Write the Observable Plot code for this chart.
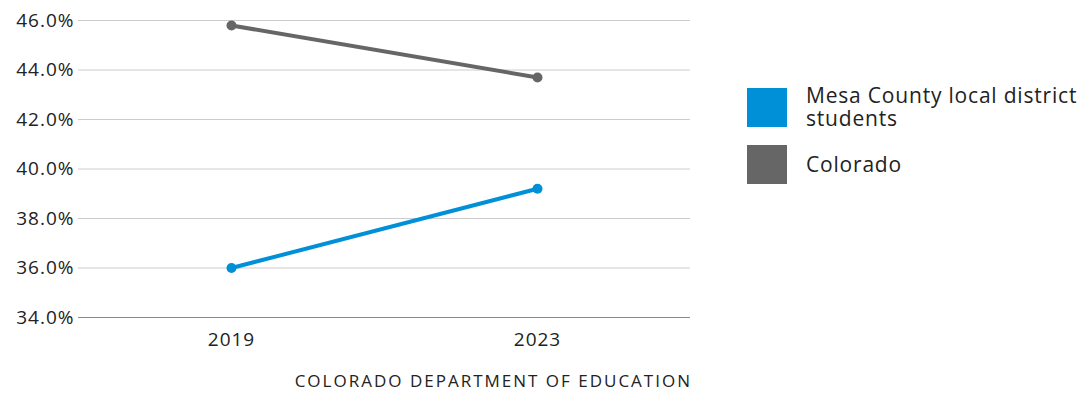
<!DOCTYPE html>
<html>
<head>
<meta charset="utf-8">
<script src="https://cdn.jsdelivr.net/npm/d3@7"></script>
<script src="https://cdn.jsdelivr.net/npm/@observablehq/plot@0.6"></script>
<style>
  html, body { margin: 0; padding: 0; background: #fff; }
  body { font-family: "Open Sans", sans-serif; color: #222; }
  #wrap { position: relative; width: 1083px; height: 393px; }
  #legend { position: absolute; left: 747px; top: 87px; font-size: 21px; line-height: 23px; letter-spacing: 0.8px; }
  .item { display: flex; align-items: center; height: 40px; margin-bottom: 17px; }
  .sw { width: 40px; height: 39px; flex: none; margin-right: 19px; }
  .lab { width: 300px; white-space: nowrap; }
  #caption { position: absolute; left: 0; width: 692px; top: 369px; text-align: right; font-size: 17px; letter-spacing: 2px; color: #222; }
</style>
</head>
<body>
<div id="wrap">
  <div id="chart"></div>
  <div id="legend"></div>
  <div id="caption">COLORADO DEPARTMENT OF EDUCATION</div>
</div>
<script>
const years = ["2019", "2023"];
const seriesNames = ["Mesa County local district students", "Colorado"];
const mesaValues = [36.0, 39.2];
const coloradoValues = [45.8, 43.7];
const yTicks = [34, 36, 38, 40, 42, 44, 46];
const colors = ["#0090d8", "#666666"];

const data = [];
years.forEach((y, i) => data.push({year: y, value: mesaValues[i], series: seriesNames[0]}));
years.forEach((y, i) => data.push({year: y, value: coloradoValues[i], series: seriesNames[1]}));

const chart = Plot.plot({
  width: 1083,
  height: 360,
  marginLeft: 78,
  marginRight: 393,
  marginTop: 20,
  marginBottom: 43,
  style: {fontFamily: "Open Sans, sans-serif", fontSize: "19px", color: "#222", background: "transparent", letterSpacing: "1px"},
  x: {type: "point", domain: years, padding: 0.5, label: null},
  y: {domain: [34, 46], ticks: yTicks, label: null},
  color: {domain: seriesNames, range: colors},
  marks: [
    Plot.gridY(yTicks.slice(1), {stroke: "#cccccc", strokeOpacity: 1, strokeWidth: 1}),
    Plot.ruleY([34], {stroke: "#888888", strokeWidth: 1}),
    Plot.axisY({ticks: yTicks, tickSize: 0, tickPadding: 4, tickFormat: d => d.toFixed(1) + "%", fontSize: 19}),
    Plot.axisX({tickSize: 0, tickPadding: 15, fontSize: 19}),
    Plot.line(data, {x: "year", y: "value", z: "series", stroke: "series", strokeWidth: 4}),
    Plot.dot(data, {x: "year", y: "value", fill: "series", r: 5})
  ]
});
document.getElementById("chart").appendChild(chart);

const legend = document.getElementById("legend");
seriesNames.forEach((s, i) => {
  const it = document.createElement("div");
  it.className = "item";
  it.innerHTML = `<div class="sw" style="background:${colors[i]}"></div><div class="lab">${s.replace("district ", "district<br>")}</div>`;
  legend.appendChild(it);
});
</script>
</body>
</html>
